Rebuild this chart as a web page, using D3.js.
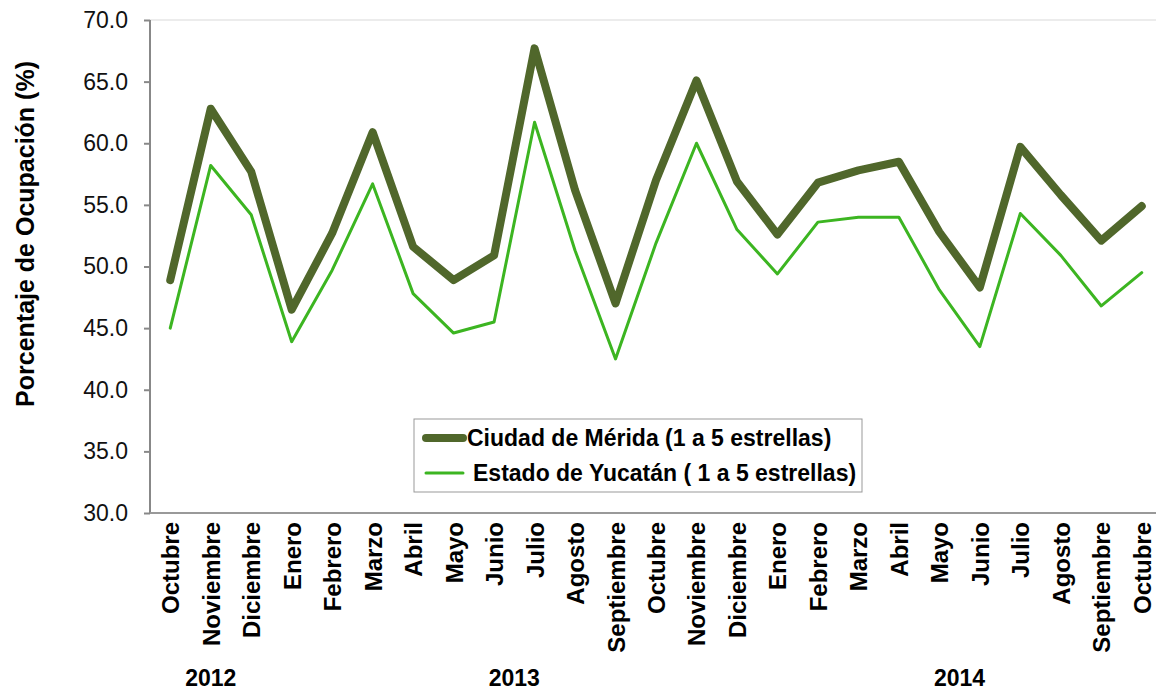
<!DOCTYPE html>
<html>
<meta charset="utf-8">
<head>
    <script src="https://d3js.org/d3.v7.min.js"></script>
    <style>
        body { margin: 0; background: #fff; }
        text { font-family: "Liberation Sans", Arial, sans-serif; }
    </style>
</head>
<body>
    <script>
        var width = 1156,
            height = 692;

        var meses = ["Octubre", "Noviembre", "Diciembre", "Enero", "Febrero", "Marzo", "Abril",
            "Mayo", "Junio", "Julio", "Agosto", "Septiembre", "Octubre", "Noviembre", "Diciembre",
            "Enero", "Febrero", "Marzo", "Abril", "Mayo", "Junio", "Julio", "Agosto", "Septiembre", "Octubre"];

        var merida = [48.9, 62.8, 57.7, 46.5, 52.7, 60.9, 51.6, 48.9, 50.9, 67.7, 56.2, 47.0,
            57.0, 65.1, 56.9, 52.6, 56.8, 57.8, 58.5, 52.8, 48.3, 59.7, 55.8, 52.1, 54.9];

        var yucatan = [45.0, 58.2, 54.2, 43.9, 49.7, 56.7, 47.8, 44.6, 45.5, 61.7, 51.3, 42.5,
            51.9, 60.0, 53.0, 49.4, 53.6, 54.0, 54.0, 48.1, 43.5, 54.3, 50.9, 46.8, 49.5];

        var anios = [{ label: "2012", at: 1 }, { label: "2013", at: 8.5 }, { label: "2014", at: 19.5 }];

        var yTicks = [30, 35, 40, 45, 50, 55, 60, 65, 70];

        var series = [
            { name: "Ciudad de Mérida (1 a 5 estrellas)", values: merida, color: "#50672b", w: 8 },
            { name: "Estado de Yucatán ( 1 a 5 estrellas)", values: yucatan, color: "#3cb521", w: 3 }
        ];

        var mLeft = 150, mTop = 20, mBottom = 513, mRight = 1162;

        var svg = d3.select("body").append("svg")
            .attr("width", width)
            .attr("height", height);

        var x = d3.scalePoint()
            .domain(d3.range(meses.length))
            .range([mLeft, mRight])
            .padding(0.5);

        var y = d3.scaleLinear()
            .domain([30, 70])
            .range([mBottom, mTop]);

        // borde superior del area
        svg.append("line")
            .attr("x1", mLeft).attr("x2", mRight)
            .attr("y1", mTop).attr("y2", mTop)
            .attr("stroke", "#d9d9d9");

        var yAxis = svg.append("g")
            .attr("transform", "translate(" + mLeft + ",0)")
            .call(d3.axisLeft(y).tickValues(yTicks).tickSize(6).tickSizeOuter(0).tickFormat(d3.format(".1f")));

        yAxis.select(".domain").remove();
        yAxis.selectAll("line").attr("stroke", "#888").attr("stroke-width", 2);
        yAxis.selectAll("text")
            .attr("font-size", 23)
            .attr("fill", "#111")
            .attr("x", -22);

        svg.append("line")
            .attr("x1", mLeft).attr("x2", mLeft)
            .attr("y1", mTop).attr("y2", mBottom)
            .attr("stroke", "#888").attr("stroke-width", 2);

        svg.append("line")
            .attr("x1", mLeft).attr("x2", mRight)
            .attr("y1", mBottom).attr("y2", mBottom)
            .attr("stroke", "#999").attr("stroke-width", 2);

        svg.selectAll(".mes")
            .data(meses)
            .enter()
            .append("text")
            .attr("class", "mes")
            .attr("transform", function(d, i) { return "translate(" + (x(i) + 9) + ",522) rotate(-90)"; })
            .attr("text-anchor", "end")
            .attr("font-size", 24)
            .attr("font-weight", "bold")
            .attr("fill", "#000")
            .text(function(d) { return d; });

        svg.selectAll(".anio")
            .data(anios)
            .enter()
            .append("text")
            .attr("class", "anio")
            .attr("x", function(d) { return x(0) + d.at * x.step(); })
            .attr("y", 686)
            .attr("text-anchor", "middle")
            .attr("font-size", 23)
            .attr("font-weight", "bold")
            .text(function(d) { return d.label; });

        svg.append("text")
            .attr("transform", "translate(34,234) rotate(-90)")
            .attr("text-anchor", "middle")
            .attr("font-size", 25)
            .attr("font-weight", "bold")
            .text("Porcentaje de Ocupación (%)");

        var line = d3.line()
            .x(function(d, i) { return x(i); })
            .y(function(d) { return y(d); });

        svg.selectAll(".serie")
            .data(series)
            .enter()
            .append("path")
            .attr("class", "serie")
            .attr("d", function(d) { return line(d.values); })
            .attr("fill", "none")
            .attr("stroke", function(d) { return d.color; })
            .attr("stroke-width", function(d) { return d.w; })
            .attr("stroke-linejoin", "round")
            .attr("stroke-linecap", "round");

        // leyenda
        var legend = svg.append("g");
        legend.append("rect")
            .attr("x", 414).attr("y", 419)
            .attr("width", 448).attr("height", 73)
            .attr("fill", "#fff")
            .attr("stroke", "#999");

        var items = legend.selectAll(".item")
            .data(series)
            .enter()
            .append("g")
            .attr("transform", function(d, i) { return "translate(0," + (438 + i * 35) + ")"; });

        items.append("line")
            .attr("x1", 426).attr("x2", 463)
            .attr("stroke", function(d) { return d.color; })
            .attr("stroke-width", function(d) { return d.w; })
            .attr("stroke-linecap", "round");

        items.append("text")
            .attr("x", function(d, i) { return i === 0 ? 467 : 473; })
            .attr("y", 8)
            .attr("font-size", 23)
            .attr("font-weight", "bold")
            .text(function(d) { return d.name; });
    </script>
</body>
</html>
